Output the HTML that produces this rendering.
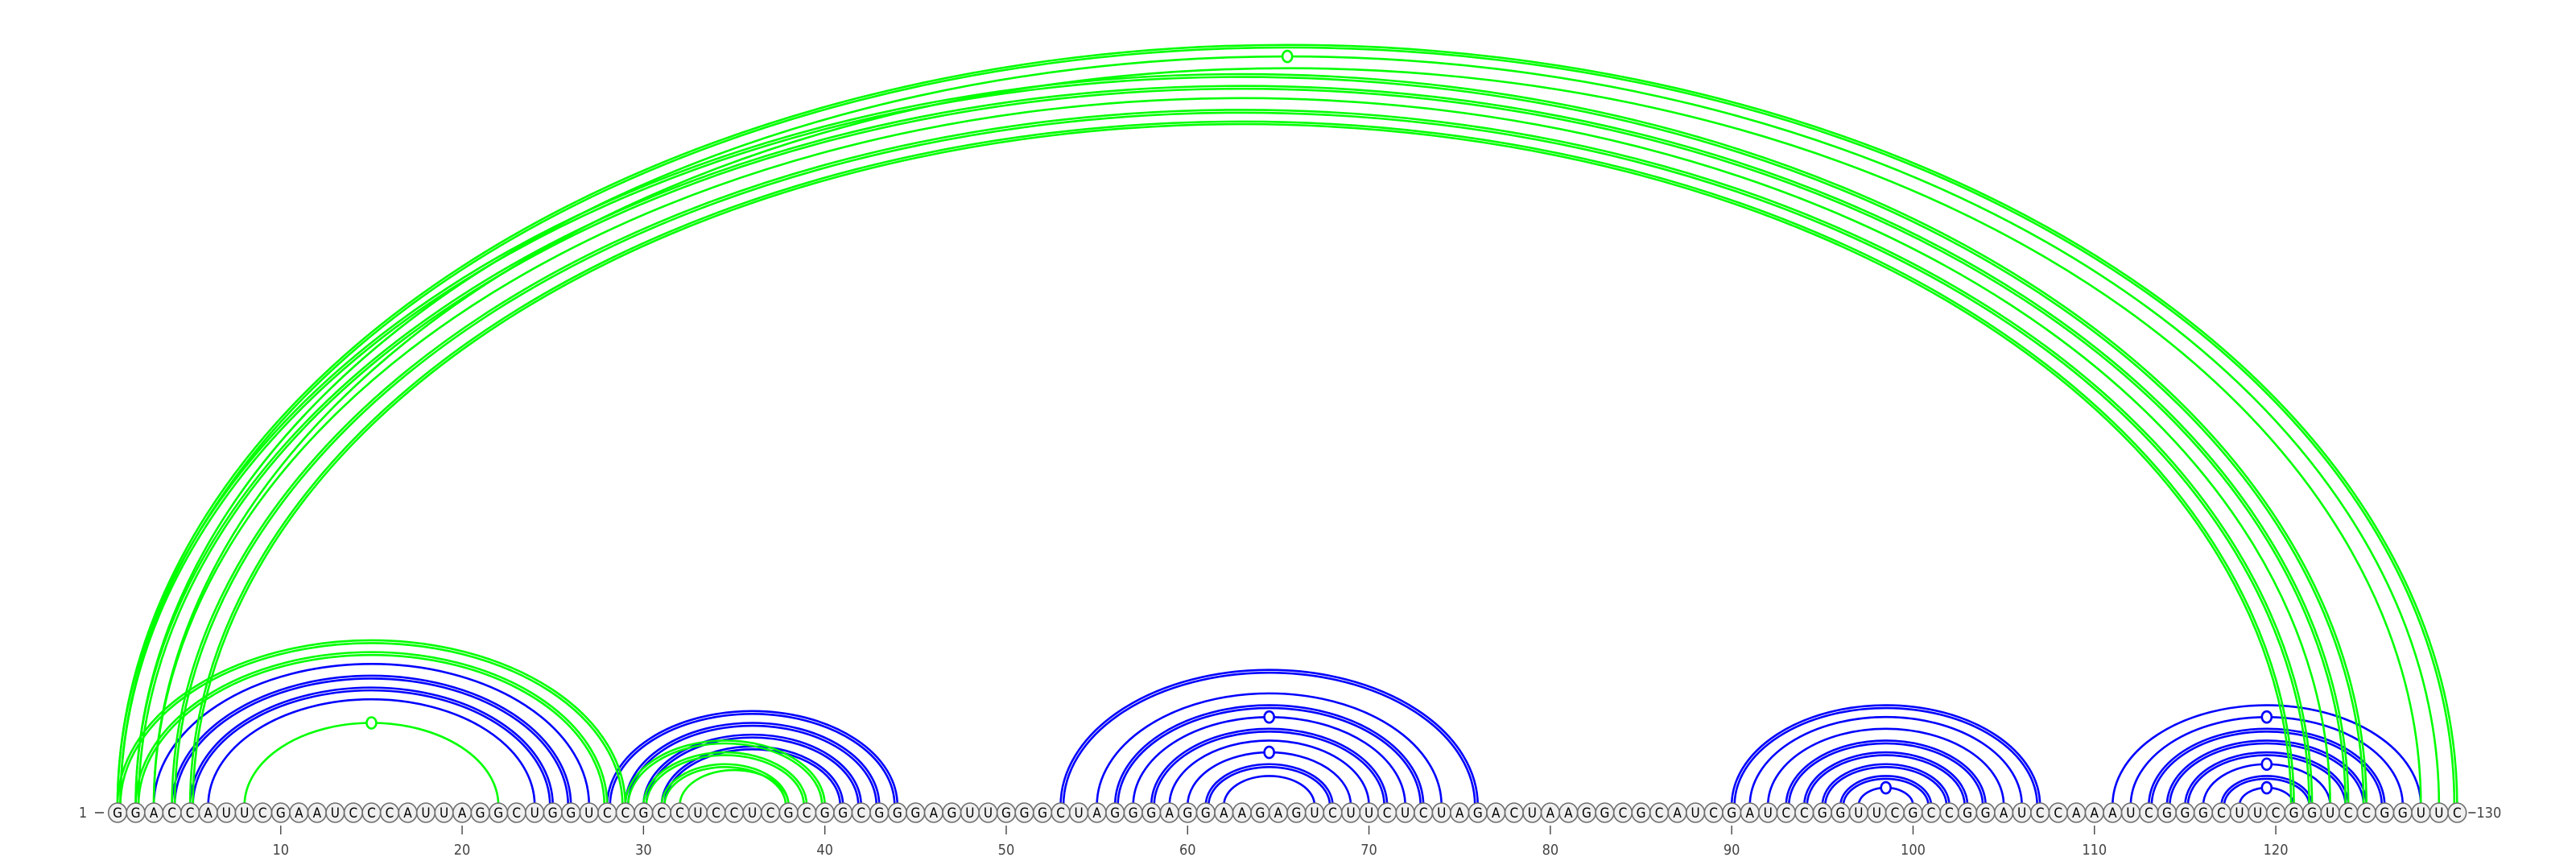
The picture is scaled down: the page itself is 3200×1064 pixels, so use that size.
<!DOCTYPE html>
<html><head><meta charset="utf-8"><style>
html,body{margin:0;padding:0;background:#fff;}
svg{display:block;}
text{font-family:"DejaVu Sans Condensed","DejaVu Sans","Liberation Sans",sans-serif;}
</style></head><body>
<svg id="chart" width="3200" height="1064" viewBox="0 0 3200 1064" xmlns="http://www.w3.org/2000/svg">
<g id="arcs"></g>
<g id="nts"></g>
<g id="axis"></g>
</svg>
<script>
const sequence = "GGACCAUUCGAAUCCCAUUAGGCUGGUCCGCCUCCUCGCGGCGGGAGUUGGGCUAGGGAGGAAGAGUCUUCUCUAGACUAAGGCGCAUCGAUCCGGUUCGCCGGAUCCAAAUCGGGCUUCGGUCCGGUUC";
const tickPositions = [10,20,30,40,50,60,70,80,90,100,110,120];
const blueI = [3,4,5,6, 28,29,30,31, 53,55,56,57,58,59,60,61,62, 90,91,92,93,94,95,96,97, 111,112,113,114,115,116,117,118];
const blueJ = [27,26,25,24, 44,43,42,41, 76,74,73,72,71,70,69,68,67, 107,106,105,104,103,102,101,100, 128,127,126,125,124,123,122,121];
const blueDouble = [0,1,1,0, 1,1,1,1, 1,0,1,0,1,0,0,1,0, 1,0,0,1,1,1,1,0, 0,0,1,1,1,0,1,0];
const blueMarker = [0,0,0,0, 0,0,0,0, 0,0,0,1,0,0,1,0,0, 0,0,0,0,0,0,0,1, 0,1,0,0,0,1,0,1];
const greenI = [1,2,3,1,2,3,4,5, 1,2,8, 29,30,31,32];
const greenJ = [130,129,128,125,124,123,122,121, 29,28,22, 40,39,38,38];
const greenDouble = [1,0,0,1,1,0,1,1, 1,1,0, 1,1,1,0];
const greenMarker = [0,1,0,0,0,0,0,0, 0,0,1, 0,0,0,0];

const NS = "http://www.w3.org/2000/svg";
const X0 = 146, DX = 22.53, BASE = 1000, CY = 1009, RATIO = 0.65;
function xPos(i){ return X0 + (i-1)*DX; }
function mk(tag, attrs, parent){
  const e = document.createElementNS(NS, tag);
  for (const k in attrs) e.setAttribute(k, attrs[k]);
  parent.appendChild(e); return e;
}
const arcsG = document.getElementById('arcs');
function drawArcs(I, J, D, M, color, label){
  for (let k = 0; k < I.length; k++){
    const x1 = xPos(I[k]), x2 = xPos(J[k]);
    const rx = (x2 - x1)/2, ry = rx*RATIO, cx = (x1+x2)/2;
    const offs = D[k] ? [0, 3.5] : [0];
    offs.forEach(o => {
      const p = mk('path', {d:`M${x1+o},${BASE} A${rx-o},${ry-o} 0 0 1 ${x2-o},${BASE}`, fill:'none', stroke:color, 'stroke-width':2.6}, arcsG);
      
      
    });
    if (M[k]){
      const c = mk('ellipse', {cx:cx, cy:BASE-ry, rx:6, ry:7, fill:'#fff', stroke:color, 'stroke-width':2.6}, arcsG);
      
      
    }
  }
}
drawArcs(blueI, blueJ, blueDouble, blueMarker, '#0000ff', 'blue');
drawArcs(greenI, greenJ, greenDouble, greenMarker, '#00ff00', 'green');

const ntG = document.getElementById('nts');
for (let i = 1; i <= sequence.length; i++){
  const x = xPos(i);
  const c = mk('ellipse', {cx:x, cy:CY, rx:11.3, ry:12, fill:'#f0f0f0', stroke:'#6e6e6e', 'stroke-width':1.6}, ntG);
  
  
  const t = mk('text', {x:x, y:CY+6, 'text-anchor':'middle', 'font-size':17, fill:'#000'}, ntG);
  t.textContent = sequence[i-1];
  
  
}
const axG = document.getElementById('axis');
const startLbl = mk('text', {x:103, y:CY+6, 'text-anchor':'middle', 'font-size':18, fill:'#444'}, axG);
startLbl.textContent = '1';


const d1 = mk('line', {x1:118, x2:129, y1:CY, y2:CY, stroke:'#444', 'stroke-width':1.6}, axG);


const xe = xPos(sequence.length);
const d2 = mk('line', {x1:xe+14, x2:xe+23, y1:CY, y2:CY, stroke:'#444', 'stroke-width':1.6}, axG);


const endLbl = mk('text', {x:xe+24, y:CY+6, 'text-anchor':'start', 'font-size':18, fill:'#444'}, axG);
endLbl.textContent = '130';


tickPositions.forEach(p => {
  const x = xPos(p);
  const l = mk('line', {x1:x, x2:x, y1:1025, y2:1036, stroke:'#444', 'stroke-width':1.4}, axG);
  
  
  const t = mk('text', {x:x, y:1061, 'text-anchor':'middle', 'font-size':18, fill:'#444'}, axG);
  t.textContent = String(p);
  
  
});
</script>
</body></html>
